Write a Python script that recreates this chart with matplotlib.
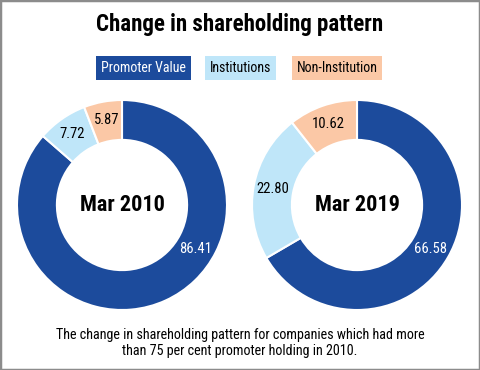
import numpy as np
import matplotlib
matplotlib.use('Agg')
import matplotlib.pyplot as plt
from matplotlib.patches import Rectangle

# data
categories = ["Promoter Value", "Institutions", "Non-Institution"]
mar_2010 = [86.41, 7.72, 5.87]
mar_2019 = [66.58, 22.80, 10.62]
period_labels = ["Mar 2010", "Mar 2019"]

colors = ["#1c4b9c", "#bfe6f9", "#fbc8a6"]
text_colors = ["white", "black", "black"]

plt.rcParams['font.family'] = ['Roboto Condensed', 'DejaVu Sans']

fig = plt.figure(figsize=(4.8, 3.7), dpi=100)

# outer grey frame
fig.patches.append(Rectangle((0, 0), 1, 1, transform=fig.transFigure,
                             fill=False, edgecolor='#8c8c8c', linewidth=2.5))

fig.text(0.5, 1 - 25 / 370, "Change in shareholding pattern", ha='center', va='center',
         fontsize=16.5, fontweight='bold')

# legend boxes
legend_x = [143.5, 240.5, 337]
for name, color, tcolor, lx in zip(categories, colors, text_colors, legend_x):
    fig.text(lx / 480, 1 - 68 / 370, name, ha='center', va='center',
             fontsize=10, color=tcolor,
             bbox=dict(boxstyle='square,pad=0.35', facecolor=color, edgecolor='none'))

centers = [(122, 205), (357, 205)]
size_px = 230
radius_px = 105


def draw_donut(center, values, title):
    cx, cy = center
    ax = fig.add_axes([(cx - size_px / 2) / 480, (370 - cy - size_px / 2) / 370,
                       size_px / 480, size_px / 370])
    lim = size_px / 2 / radius_px
    ax.pie(values, colors=colors, startangle=90, counterclock=False, radius=1,
           wedgeprops=dict(width=0.38, edgecolor='white', linewidth=1.5))
    ax.set_xlim(-lim, lim)
    ax.set_ylim(-lim, lim)
    ax.set_aspect('equal')
    ax.axis('off')

    # value labels in the middle of the ring
    ends = 90 - np.cumsum(values) * 3.6
    starts = ends + np.array(values) * 3.6
    mids = (starts + ends) / 2
    mids[0] = -31  # promoter label sits lower right
    for v, ang, tc in zip(values, mids, text_colors):
        r = 0.82
        ax.text(r * np.cos(np.radians(ang)), r * np.sin(np.radians(ang)),
                "%.2f" % v, ha='center', va='center', fontsize=10.5, color=tc)
    ax.text(0, 0, title, ha='center', va='center', fontsize=16, fontweight='bold')


draw_donut(centers[0], mar_2010, period_labels[0])
draw_donut(centers[1], mar_2019, period_labels[1])

fig.text(0.5, 1 - 343 / 370,
         "The change in shareholding pattern for companies which had more\n"
         "than 75 per cent promoter holding in 2010.",
         ha='center', va='center', fontsize=10.2, linespacing=1.25)

fig.savefig('out.png', dpi=100)
